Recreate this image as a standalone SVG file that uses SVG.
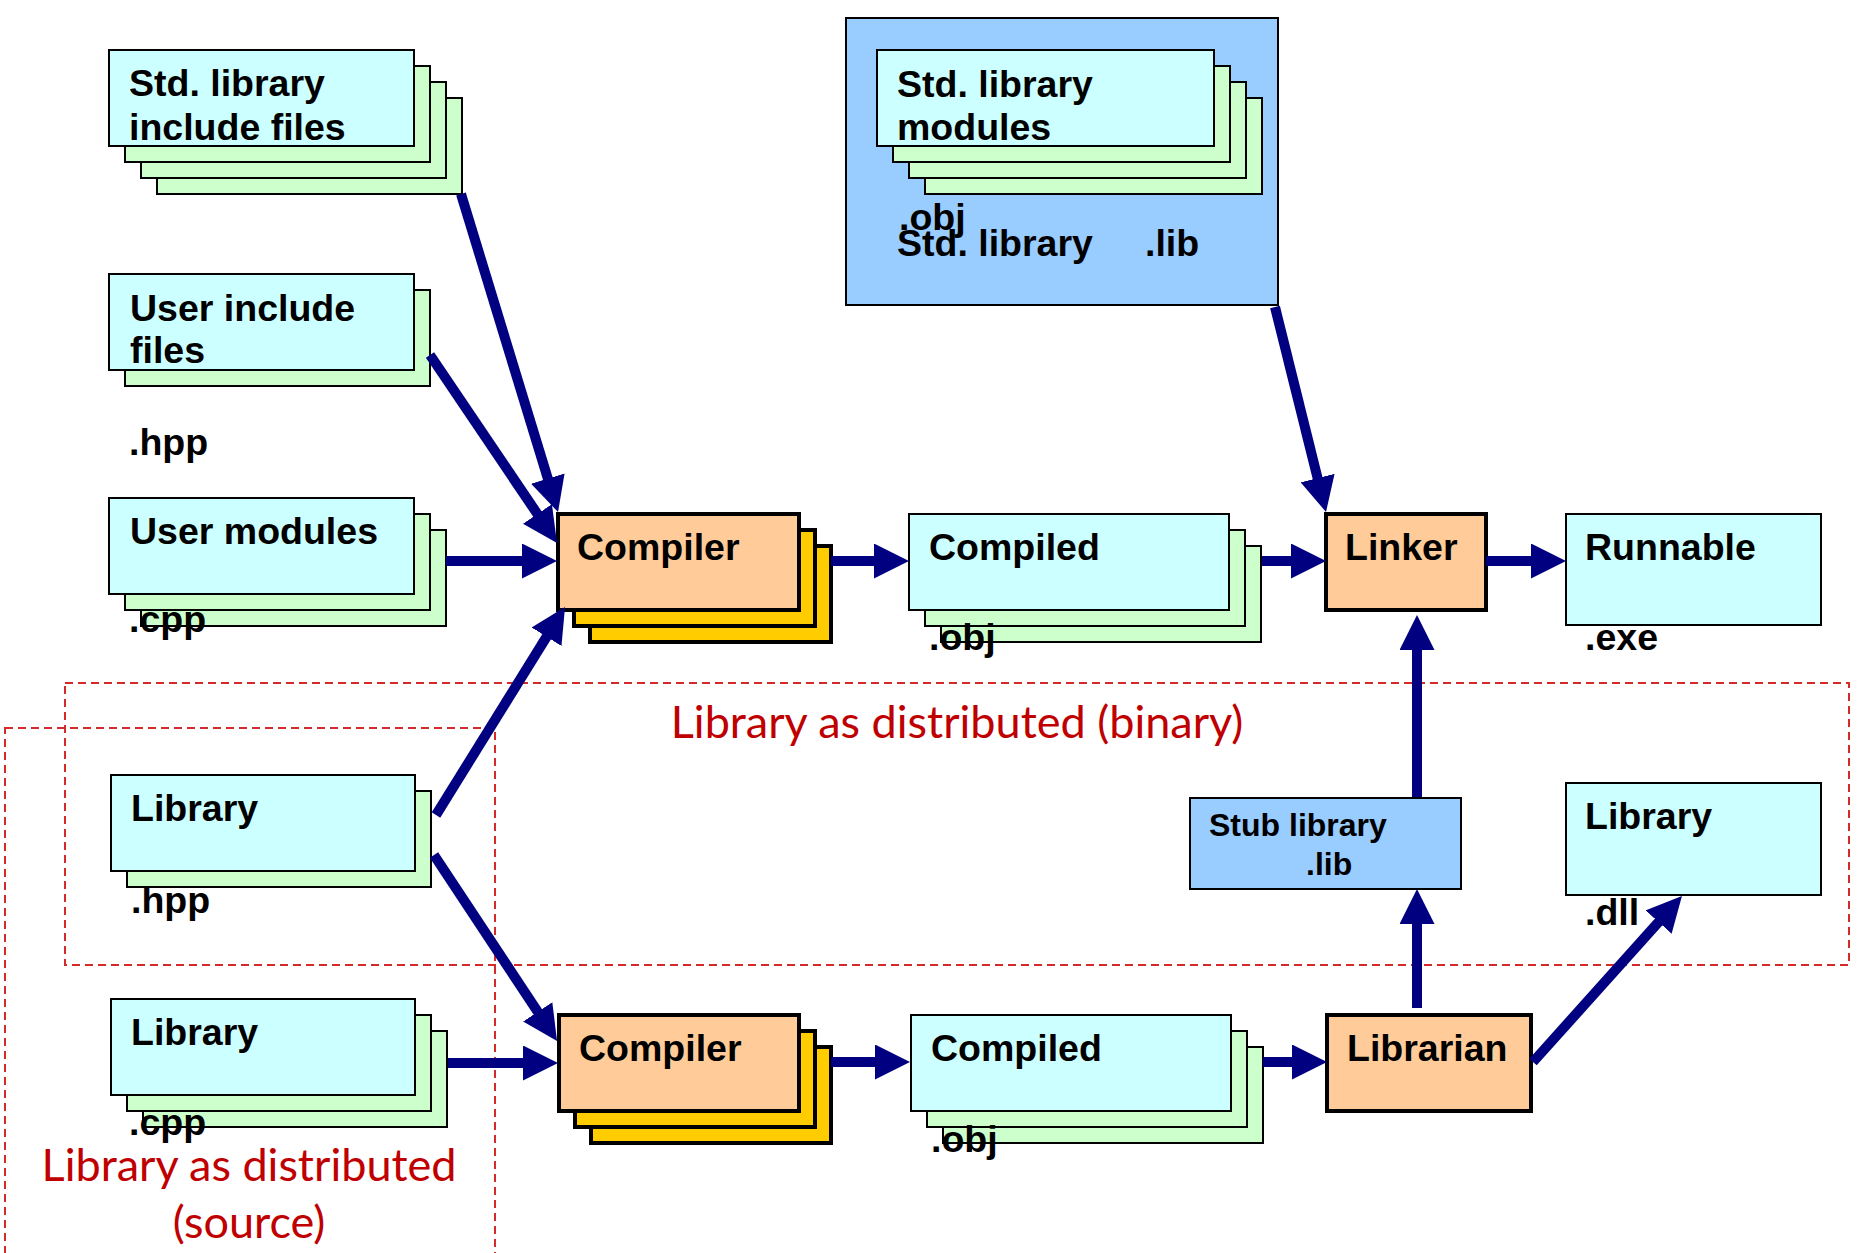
<svg xmlns="http://www.w3.org/2000/svg" width="1864" height="1253" viewBox="0 0 1864 1253">
  <style>
    .file { fill: #ccffff; stroke: #000; stroke-width: 2; }
    .copy { fill: #ccffcc; stroke: #000; stroke-width: 2; }
    .tool { fill: #ffcc99; stroke: #000; stroke-width: 4; }
    .toolcopy { fill: #ffcc00; stroke: #000; stroke-width: 4; }
    .lib { fill: #99ccff; stroke: #000; stroke-width: 2; }
    .lbl { font-family: "Liberation Sans", Arial, sans-serif; font-weight: bold; font-size: 37.5px; fill: #000; }
    .small { font-size: 32px; }
    .region { fill: none; stroke: #d42a2a; stroke-width: 2; stroke-dasharray: 8 5; }
    .rlbl { font-family: Lato, "Liberation Sans", sans-serif; font-size: 45px; fill: #c00000; text-anchor: middle; }
    .flow { fill: none; stroke: #000080; stroke-width: 10; marker-end: url(#head); }
  </style>
  <defs>
    <marker id="head" markerUnits="userSpaceOnUse" viewBox="0 0 35 35" markerWidth="35" markerHeight="35" refX="15" refY="17.5" orient="auto">
      <path d="M0,0 L35,17.5 L0,35 Z" fill="#000080"/>
    </marker>
  </defs>
  <rect width="1864" height="1253" fill="#fff"/>

  <!-- distribution regions -->
  <g id="region-binary">
    <rect class="region" x="65" y="683" width="1784" height="282"/>
    <text class="rlbl" x="957" y="738">Library as distributed (binary)</text>
  </g>
  <g id="region-source">
    <rect class="region" x="5" y="728" width="490" height="540"/>
    <text class="rlbl" x="249" y="1181">Library as distributed</text>
    <text class="rlbl" x="249" y="1238">(source)</text>
  </g>

  <!-- top row: inputs -->
  <g id="std-include">
    <rect class="copy" x="157" y="98" width="305" height="96"/>
    <rect class="copy" x="141" y="82" width="305" height="96"/>
    <rect class="copy" x="125" y="66" width="305" height="96"/>
    <rect class="file" x="109" y="50" width="305" height="96"/>
    <text class="lbl" x="129" y="96">Std. library</text>
    <text class="lbl" x="129" y="140">include files</text>
  </g>

  <g id="std-lib">
    <rect class="lib" x="846" y="18" width="432" height="287"/>
    <rect class="copy" x="925" y="98" width="337" height="96"/>
    <rect class="copy" x="909" y="82" width="337" height="96"/>
    <rect class="copy" x="893" y="66" width="337" height="96"/>
    <rect class="file" x="877" y="50" width="337" height="96"/>
    <text class="lbl" x="897" y="97">Std. library</text>
    <text class="lbl" x="897" y="140">modules</text>
    <text class="lbl" x="899" y="230">.obj</text>
    <text class="lbl" x="897" y="256">Std. library</text>
    <text class="lbl" x="1145" y="256">.lib</text>
  </g>

  <g id="user-include">
    <rect class="copy" x="125" y="290" width="305" height="96"/>
    <rect class="file" x="109" y="274" width="305" height="96"/>
    <text class="lbl" x="130" y="321">User include</text>
    <text class="lbl" x="130" y="363">files</text>
    <text class="lbl" x="129" y="455">.hpp</text>
  </g>

  <g id="user-modules">
    <rect class="copy" x="141" y="530" width="305" height="96"/>
    <rect class="copy" x="125" y="514" width="305" height="96"/>
    <rect class="file" x="109" y="498" width="305" height="96"/>
    <text class="lbl" x="130" y="544">User modules</text>
    <text class="lbl" x="129" y="632">.cpp</text>
  </g>

  <g id="compiler-app">
    <rect class="toolcopy" x="590" y="546" width="241" height="96"/>
    <rect class="toolcopy" x="574" y="530" width="241" height="96"/>
    <rect class="tool" x="558" y="514" width="241" height="96"/>
    <text class="lbl" x="577" y="560">Compiler</text>
  </g>

  <g id="compiled-app">
    <rect class="copy" x="941" y="546" width="320" height="96"/>
    <rect class="copy" x="925" y="530" width="320" height="96"/>
    <rect class="file" x="909" y="514" width="320" height="96"/>
    <text class="lbl" x="929" y="560">Compiled</text>
    <text class="lbl" x="929" y="650">.obj</text>
  </g>

  <g id="linker">
    <rect class="tool" x="1326" y="514" width="160" height="96"/>
    <text class="lbl" x="1345" y="560">Linker</text>
  </g>

  <g id="runnable">
    <rect class="file" x="1566" y="514" width="255" height="111"/>
    <text class="lbl" x="1585" y="560">Runnable</text>
    <text class="lbl" x="1585" y="650">.exe</text>
  </g>

  <!-- library build -->
  <g id="library-hpp">
    <rect class="copy" x="127" y="791" width="304" height="96"/>
    <rect class="file" x="111" y="775" width="304" height="96"/>
    <text class="lbl" x="131" y="821">Library</text>
    <text class="lbl" x="131" y="913">.hpp</text>
  </g>

  <g id="library-cpp">
    <rect class="copy" x="143" y="1031" width="304" height="96"/>
    <rect class="copy" x="127" y="1015" width="304" height="96"/>
    <rect class="file" x="111" y="999" width="304" height="96"/>
    <text class="lbl" x="131" y="1045">Library</text>
    <text class="lbl" x="129" y="1135">.cpp</text>
  </g>

  <g id="compiler-lib">
    <rect class="toolcopy" x="591" y="1047" width="240" height="96"/>
    <rect class="toolcopy" x="575" y="1031" width="240" height="96"/>
    <rect class="tool" x="559" y="1015" width="240" height="96"/>
    <text class="lbl" x="579" y="1061">Compiler</text>
  </g>

  <g id="compiled-lib">
    <rect class="copy" x="943" y="1047" width="320" height="96"/>
    <rect class="copy" x="927" y="1031" width="320" height="96"/>
    <rect class="file" x="911" y="1015" width="320" height="96"/>
    <text class="lbl" x="931" y="1061">Compiled</text>
    <text class="lbl" x="931" y="1152">.obj</text>
  </g>

  <g id="librarian">
    <rect class="tool" x="1327" y="1015" width="204" height="96"/>
    <text class="lbl" x="1347" y="1061">Librarian</text>
  </g>

  <g id="stub-library">
    <rect class="lib" x="1190" y="798" width="271" height="91"/>
    <text class="lbl small" x="1209" y="836">Stub library</text>
    <text class="lbl small" x="1306" y="875">.lib</text>
  </g>

  <g id="library-dll">
    <rect class="file" x="1566" y="783" width="255" height="112"/>
    <text class="lbl" x="1585" y="829">Library</text>
    <text class="lbl" x="1585" y="925">.dll</text>
  </g>

  <!-- connectors -->
  <g id="connectors">
    <path class="flow" d="M461,194 L552.2,492.9"/>
    <path class="flow" d="M430,355 L545.8,526.4"/>
    <path class="flow" d="M446,561 L537,561"/>
    <path class="flow" d="M436,815 L554.5,624"/>
    <path class="flow" d="M434,855 L546,1024.3"/>
    <path class="flow" d="M448,1063 L538,1063"/>
    <path class="flow" d="M831,561 L889,561"/>
    <path class="flow" d="M1262,561 L1306,561"/>
    <path class="flow" d="M1486,561 L1546,561"/>
    <path class="flow" d="M1275,307 L1321.2,492.6"/>
    <path class="flow" d="M1417,797 L1417,635"/>
    <path class="flow" d="M1417,1008 L1417,909"/>
    <path class="flow" d="M831,1062 L890,1062"/>
    <path class="flow" d="M1263,1062 L1307,1062"/>
    <path class="flow" d="M1533,1062 L1668.6,910.9"/>
  </g>
</svg>
